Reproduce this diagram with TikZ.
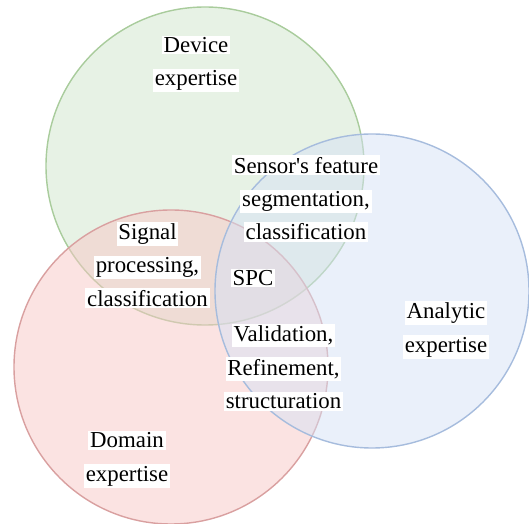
\documentclass[tikz,border=0pt]{standalone}
\usepackage{fontspec}
\setmainfont{Liberation Serif}
\newfontfamily\labelfont{Liberation Serif}
\usepackage{xcolor}

\definecolor{devfill}{RGB}{208,229,204}
\definecolor{devline}{RGB}{169,204,156}
\definecolor{domfill}{RGB}{247,199,197}
\definecolor{domline}{RGB}{217,160,160}
\definecolor{anafill}{RGB}{213,225,245}
\definecolor{analine}{RGB}{166,188,221}

% white band behind each printed line
\newcommand{\hl}[1]{{\setlength{\fboxsep}{1pt}\colorbox{white}{#1}}}

\begin{document}
\begin{tikzpicture}[
    set/.style={line width=0.8pt, fill opacity=0.5},
    lbl/.style={align=center, inner sep=0pt, font=\labelfont\fontsize{13}{19}\selectfont}
]
    \useasboundingbox (0,0) rectangle (10.58,-10.48);

    % The three circles
    \draw[set, fill=devfill, draw=devline] (4.10,-3.32) circle (3.18);
    \draw[set, fill=domfill, draw=domline] (3.42,-7.34) circle (3.14);
    \draw[set, fill=anafill, draw=analine] (7.44,-5.82) circle (3.14);

    % Single fields
    \node[lbl] (device) at (3.92,-1.28) {\hl{Device}\\\hl{expertise}};
    \node[lbl] (analytic) at (8.92,-6.60) {\hl{Analytic}\\\hl{expertise}};
    \node[lbl] (domain) at (2.54,-9.19) {\hl{Domain}\\\hl{expertise}};

    % Overlaps
    \node[lbl] (sensor) at (6.12,-3.97) {\hl{Sensor's feature}\\\hl{segmentation,}\\\hl{classification}};
    \node[lbl] (signal) at (2.95,-5.30) {\hl{Signal}\\\hl{processing,}\\\hl{classification}};
    \node[lbl] (valid) at (5.67,-7.35) {\hl{Validation,}\\\hl{Refinement,}\\\hl{structuration}};

    % Centre
    \node[lbl] (spc) at (5.06,-5.56) {\hl{SPC}};

\end{tikzpicture}
\end{document}
